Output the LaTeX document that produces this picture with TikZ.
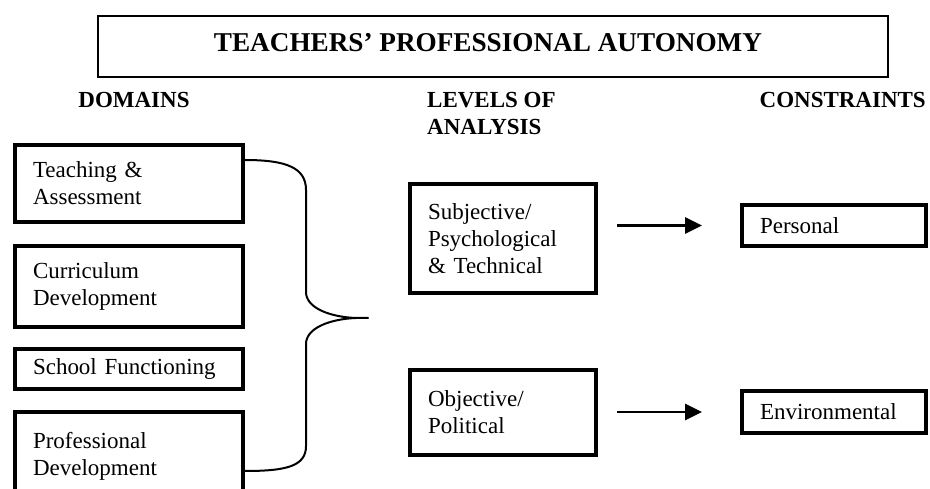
\documentclass[tikz,border=0pt]{standalone}
\usepackage{fontspec}
\setmainfont{Liberation Serif}
\usetikzlibrary{arrows.meta,calc}
\tikzset{
  boxbase/.style={draw=black, line width=4pt, inner xsep=18pt, inner ysep=0pt, align=left,
    font=\fontsize{23}{27}\selectfont},
  dombox/.style={boxbase, text width=192pt},
  lvlbox/.style={boxbase, text width=150pt},
  conbox/.style={boxbase, text width=148pt},
  header/.style={inner sep=0pt, font=\bfseries\fontsize{23}{27}\selectfont},
  titlebox/.style={draw=black, line width=2pt, minimum width=790pt, minimum height=61pt, inner sep=0pt},
  bracepath/.style={line width=2pt, line cap=round},
  arr/.style={line width=2.8pt, -{Triangle[length=17pt,width=16pt]}}
}
\begin{document}
\begin{tikzpicture}[x=1pt,y=-1pt]
  \useasboundingbox (0,0) rectangle (930,489);
  \clip (0,0) rectangle (930,489);
  % title
  \node[titlebox] (tbox) at (493,46.5) {};
  \node[inner sep=0pt, anchor=base, font=\bfseries\fontsize{27.2}{30}\selectfont] (title) at (488,52) {TEACHERS' PROFESSIONAL AUTONOMY};
  % headers
  \node[header, anchor=base] (hdom) at (134,108) {DOMAINS};
  \node[header, anchor=base west] (hlvl1) at (427,108) {LEVELS OF};
  \node[header, anchor=base west] (hlvl2) at (427,135) {ANALYSIS};
  \node[header, anchor=base east] (hcon) at (926,108) {CONSTRAINTS};
  % domain boxes
  \node[dombox, minimum height=77pt] (d1) at (129,183.5) {Teaching \&\\Assessment};
  \node[dombox, minimum height=81pt] (d2) at (129,286.5) {Curriculum\\Development};
  \node[dombox, minimum height=40pt] (d3) at (129,369) {School Functioning};
  \node[dombox, minimum height=85pt, text depth=28pt] (d4) at (129,454.5) {Professional\\Development};
  % level boxes
  \node[lvlbox, minimum height=109pt] (subj) at (503,238.5) {Subjective/\\Psychological\\\& Technical};
  \node[lvlbox, minimum height=85pt] (obj) at (503,412.5) {Objective/\\Political};
  % constraint boxes
  \node[conbox, minimum height=41pt] (pers) at (834,225.5) {Personal};
  \node[conbox, minimum height=42pt] (env) at (834,412) {Environmental};
  % brace
  \coordinate (btop) at ($(d1.north east)+(0,17)$);
  \coordinate (bbot) at ($(d4.north east)+(0,61)$);
  \coordinate (tip) at (368,318);
  \draw[bracepath] (btop) .. controls ($(btop)+(42,0)$) and (306,168) .. (306,190)
     -- (306,292) .. controls (306,308) and (330,317) .. ($(tip)+(-12,0)$) -- (tip);
  \draw[bracepath] ($(tip)+(-12,0)$) .. controls (330,319) and (306,328) .. (306,344)
     -- (306,446) .. controls (306,466) and ($(bbot)+(42,0)$) .. (bbot);
  % arrows
  \draw[arr] ($(subj.east |- pers.west)+(19,0)$) -- ($(pers.west)+(-38,0)$);
  \draw[arr] ($(obj.east |- env.west)+(19,0)$) -- ($(env.west)+(-38,0)$);
\end{tikzpicture}
\end{document}
